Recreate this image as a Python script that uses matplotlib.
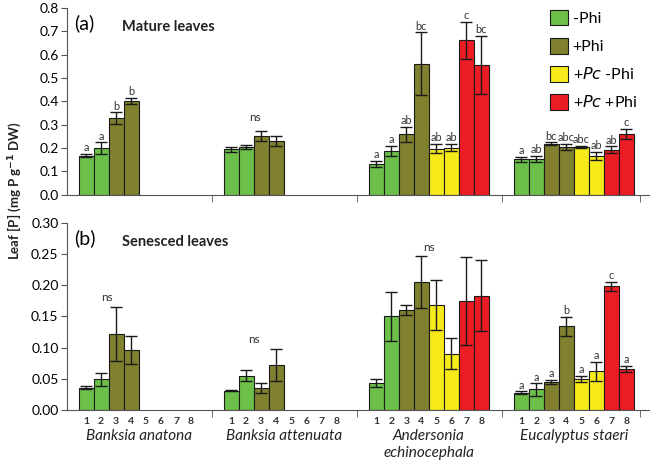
import matplotlib
matplotlib.use("Agg")
import matplotlib.pyplot as plt
import numpy as np
from matplotlib.patches import Patch
from matplotlib.transforms import blended_transform_factory

plt.rcParams["font.family"] = ["Lato", "DejaVu Sans"]

species = ["Banksia anatona", "Banksia attenuata", "Andersonia\nechinocephala", "Eucalyptus staeri"]
treatments = ["-Phi", "+Phi", "+$\\it{Pc}$ -Phi", "+$\\it{Pc}$ +Phi"]
treatment_colors = ["#6cc04a", "#80802f", "#f7ea1a", "#ec1c24"]
bar_numbers = ["1", "2", "3", "4", "5", "6", "7", "8"]

# mature leaves, mean and SE per bar (1-8); NaN = not measured
mature_mean = [
    [0.168, 0.200, 0.328, 0.402, np.nan, np.nan, np.nan, np.nan],
    [0.194, 0.205, 0.251, 0.231, np.nan, np.nan, np.nan, np.nan],
    [0.131, 0.188, 0.259, 0.561, 0.197, 0.202, 0.661, 0.556],
    [0.152, 0.155, 0.219, 0.205, 0.205, 0.168, 0.192, 0.261],
]
mature_se = [
    [0.008, 0.025, 0.025, 0.012, np.nan, np.nan, np.nan, np.nan],
    [0.010, 0.010, 0.020, 0.020, np.nan, np.nan, np.nan, np.nan],
    [0.014, 0.022, 0.031, 0.134, 0.020, 0.015, 0.080, 0.125],
    [0.010, 0.013, 0.006, 0.014, 0.006, 0.017, 0.015, 0.021],
]
# letters per bar, None = no letters (group tested "ns")
mature_letters = [
    ["a", "a", "b", "b"],
    None,
    ["a", "a", "ab", "bc", "ab", "ab", "c", "bc"],
    ["a", "ab", "bc", "abc", "abc", "ab", "ab", "c"],
]

# senesced leaves
senesced_mean = [
    [0.036, 0.049, 0.122, 0.096, np.nan, np.nan, np.nan, np.nan],
    [0.031, 0.055, 0.036, 0.072, np.nan, np.nan, np.nan, np.nan],
    [0.043, 0.150, 0.161, 0.205, 0.169, 0.090, 0.175, 0.183],
    [0.028, 0.033, 0.045, 0.134, 0.050, 0.062, 0.198, 0.066],
]
senesced_se = [
    [0.003, 0.011, 0.043, 0.023, np.nan, np.nan, np.nan, np.nan],
    [0.001, 0.009, 0.008, 0.026, np.nan, np.nan, np.nan, np.nan],
    [0.006, 0.039, 0.008, 0.041, 0.040, 0.025, 0.070, 0.057],
    [0.002, 0.010, 0.003, 0.015, 0.005, 0.015, 0.007, 0.005],
]
senesced_letters = [
    None,
    None,
    None,
    ["a", "a", "a", "b", "a", "a", "c", "a"],
]

GROUP_STEP = 9.67
X_LEFT = -1.27
X_RIGHT = 37.5
# where the "ns" note sits within a group (in bar units)
NS_X = {"top": {1: 1.6}, "bot": {0: 1.4, 1: 1.5, 2: 3.5}}


def draw_panel(ax, means, ses, letters, ylim, yticks, yfmt, tag, title, letter_pad, ns_x, ns_pad):
    for g in range(len(species)):
        m = np.array(means[g])
        s = np.array(ses[g])
        x = g * GROUP_STEP + np.arange(len(m))
        ok = ~np.isnan(m)
        colors = np.array([treatment_colors[i // 2] for i in range(len(m))])
        ax.bar(x[ok], m[ok], width=1.0, color=colors[ok],
               edgecolor="#1a1a1a", linewidth=0.8, zorder=2)
        ax.errorbar(x[ok], m[ok], yerr=s[ok], fmt="none", ecolor="#1a1a1a",
                    elinewidth=1.0, capsize=4, capthick=1.0, zorder=3)
        if letters[g] is None:
            top = np.nanmax(m + s)
            ax.text(g * GROUP_STEP + ns_x[g], top + ns_pad, "ns", ha="center",
                    va="bottom", fontsize=8.5, color="#333333")
            continue
        for i, lab in enumerate(letters[g]):
            ax.text(x[i], m[i] + s[i] + letter_pad, lab, ha="center", va="bottom",
                    fontsize=7.8, color="#333333")

    ax.set_xlim(X_LEFT, X_RIGHT)
    ax.set_ylim(*ylim)
    ax.set_yticks(yticks)
    ax.set_yticklabels([yfmt.format(v) for v in yticks], fontsize=10)
    ax.spines["top"].set_visible(False)
    ax.spines["right"].set_visible(False)
    ax.spines["left"].set_color("#555555")
    ax.spines["bottom"].set_color("#555555")
    ax.tick_params(axis="y", length=4, color="#555555", pad=2)

    seps = [X_LEFT + g * GROUP_STEP for g in range(1, 4)] + [X_RIGHT - 0.6]
    ax.set_xticks(seps, minor=True)
    ax.tick_params(axis="x", which="minor", length=5, direction="out", color="#555555")

    ax.text(0.012, 0.965, tag, transform=ax.transAxes, fontsize=14, va="top", ha="left")
    ax.text(0.095, 0.935, title, transform=ax.transAxes, fontsize=10.5,
            fontweight="bold", va="top", ha="left", color="#222222")


fig = plt.figure(figsize=(6.5, 4.66), dpi=100)
ax_top = fig.add_axes([0.103, 0.582, 0.895, 0.401])
ax_bot = fig.add_axes([0.103, 0.120, 0.895, 0.402])

draw_panel(ax_top, mature_mean, mature_se, mature_letters, (0, 0.8),
           np.arange(0, 0.81, 0.1), "{:.1f}", "(a)", "Mature leaves", 0.003,
           NS_X["top"], 0.035)
draw_panel(ax_bot, senesced_mean, senesced_se, senesced_letters, (0, 0.30),
           np.arange(0, 0.301, 0.05), "{:.2f}", "(b)", "Senesced leaves", 0.001,
           NS_X["bot"], 0.006)

ax_top.set_xticks([])
all_x = [g * GROUP_STEP + i for g in range(len(species)) for i in range(len(bar_numbers))]
ax_bot.set_xticks(all_x)
ax_bot.set_xticklabels(bar_numbers * len(species), fontsize=7.5, fontweight="bold", color="#333333")
ax_bot.tick_params(axis="x", which="major", length=0, pad=5)

trans = blended_transform_factory(ax_bot.transData, ax_bot.transAxes)
for g, name in enumerate(species):
    ax_bot.text(g * GROUP_STEP + 3.5, -0.1, name, transform=trans, ha="center", va="top",
                fontsize=11, style="italic", color="#222222", linespacing=1.25)

handles = [Patch(facecolor=c, edgecolor="#1a1a1a", linewidth=0.8) for c in treatment_colors]
ax_top.legend(handles, treatments, loc="upper right", bbox_to_anchor=(1.005, 1.065),
              frameon=False, fontsize=11.5, handlelength=1.1, handleheight=1.1,
              handletextpad=0.3, labelspacing=0.75)

fig.text(0.022, 0.59, "Leaf [P] (mg P g$^{\\mathbf{-1}}$ DW)", rotation=90, ha="center",
         va="center", fontsize=9.5, fontweight="bold", color="#222222")

fig.savefig("out.png", dpi=100)
